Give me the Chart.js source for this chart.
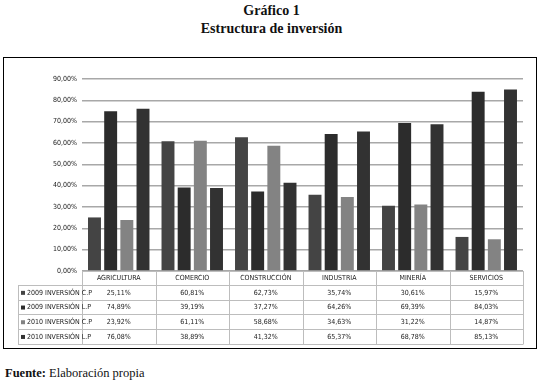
<!DOCTYPE html>
<html lang="es">
  <head>
    <meta charset="utf-8" />
    <title>Estructura de inversión</title>
    <style>
      * { margin: 0; padding: 0; }
      body { width: 543px; height: 384px; background: #fff; position: relative; overflow: hidden; }
      .title {
        position: absolute; left: 0; width: 543px; text-align: center;
        font-family: "Liberation Serif", "DejaVu Serif", serif; font-weight: bold;
        font-size: 14px; color: #111;
      }
      .box {
        position: absolute; left: 3px; top: 57px; width: 532px; height: 290px;
        border: 1.5px solid #000;
      }
      .source {
        position: absolute; left: 5px; top: 366px;
        font-family: "Liberation Serif", "DejaVu Serif", serif; font-size: 12.5px; color: #111;
      }
      canvas { position: absolute; left: 0; top: 0; }
    </style>
  </head>
  <body>
    <div class="title" style="top: 3px">Gráfico 1</div>
    <div class="title" style="top: 21px">Estructura de inversión</div>
    <div class="box"></div>
    <div class="source"><b>Fuente:</b> Elaboración propia</div>
    <canvas id="myChart" width="543" height="384"></canvas>

    <script src="https://cdn.jsdelivr.net/npm/chart.js"></script>
    <script>
      const categories = ["AGRICULTURA", "COMERCIO", "CONSTRUCCIÓN", "INDUSTRIA", "MINERÍA", "SERVICIOS"];
      const seriesNames = ["2009 INVERSIÓN C.P", "2009 INVERSIÓN L.P", "2010 INVERSIÓN C.P", "2010 INVERSIÓN L.P"];
      const cp2009 = [25.11, 60.81, 62.73, 35.74, 30.61, 15.97];
      const lp2009 = [74.89, 39.19, 37.27, 64.26, 69.39, 84.03];
      const cp2010 = [23.92, 61.11, 58.68, 34.63, 31.22, 14.87];
      const lp2010 = [76.08, 38.89, 41.32, 65.37, 68.78, 85.13];
      const colors = ["#444444", "#2c2c2c", "#838383", "#323232"];

      const fmt = (v) => v.toFixed(2).replace(".", ",") + "%";
      const fontFamily = '"Liberation Sans Narrow", "DejaVu Sans Condensed", "Liberation Sans", sans-serif';
      const smallFont = "7px " + fontFamily;

      // draws the data table under the plot
      const dataTable = {
        id: "dataTable",
        afterDraw(chart) {
          const { ctx, chartArea: { left, right, bottom }, scales: { x } } = chart;
          const legendLeft = 18;
          const headH = 14;
          const rowH = 14.7;
          const catW = (right - left) / categories.length;

          ctx.save();
          ctx.strokeStyle = "#bdbdbd";
          ctx.lineWidth = 1;

          // horizontal lines
          ctx.beginPath();
          ctx.moveTo(left, bottom + 0.5);
          ctx.lineTo(right, bottom + 0.5);
          for (let r = 0; r <= seriesNames.length; r++) {
            const yy = Math.round(bottom + headH + r * rowH) + 0.5;
            ctx.moveTo(legendLeft, yy);
            ctx.lineTo(right, yy);
          }
          // vertical lines
          const tableBottom = Math.round(bottom + headH + seriesNames.length * rowH) + 0.5;
          ctx.moveTo(legendLeft + 0.5, bottom + headH);
          ctx.lineTo(legendLeft + 0.5, tableBottom);
          for (let c = 0; c <= categories.length; c++) {
            const xx = Math.round(left + c * catW) + 0.5;
            ctx.moveTo(xx, bottom);
            ctx.lineTo(xx, tableBottom);
          }
          ctx.stroke();

          ctx.font = smallFont;
          ctx.fillStyle = "#1a1a1a";
          ctx.textBaseline = "middle";
          ctx.textAlign = "center";
          categories.forEach((c, i) => {
            ctx.fillText(c, x.getPixelForValue(i), bottom + headH / 2 + 0.5);
          });

          chart.data.datasets.forEach((ds, r) => {
            const yc = bottom + headH + r * rowH + rowH / 2 + 0.5;
            ctx.fillStyle = ds.backgroundColor;
            ctx.fillRect(legendLeft + 3, yc - 2, 4, 4);
            ctx.fillStyle = "#1a1a1a";
            ctx.textAlign = "left";
            ctx.fillText(ds.label, legendLeft + 9, yc);
            ctx.textAlign = "center";
            ds.data.forEach((v, i) => {
              ctx.fillText(fmt(v), x.getPixelForValue(i), yc);
            });
          });
          ctx.restore();
        },
      };

      const config = {
        type: "bar",
        data: {
          labels: categories,
          datasets: [cp2009, lp2009, cp2010, lp2010].map((d, i) => ({
            label: seriesNames[i],
            data: d,
            backgroundColor: colors[i],
            borderWidth: 0,
            categoryPercentage: 0.88,
            barPercentage: 0.8,
          })),
        },
        options: {
          responsive: false,
          animation: false,
          layout: { padding: { top: 79, bottom: 113, left: 32, right: 20 } },
          plugins: { legend: { display: false }, tooltip: { enabled: false } },
          scales: {
            x: {
              afterFit(scale) { scale.height = 0; },
              grid: { display: false },
              border: { display: false },
              ticks: { display: false },
            },
            y: {
              min: 0,
              max: 90,
              afterFit(scale) { scale.width = 50; },
              grid: { color: "#a8a8a8", lineWidth: 1.5, drawTicks: false },
              border: { display: false },
              ticks: {
                stepSize: 10,
                padding: 5,
                color: "#1a1a1a",
                font: { family: fontFamily, size: 7 },
                callback: (v) => fmt(v),
              },
            },
          },
        },
        plugins: [dataTable],
      };

      const myChart = new Chart(document.getElementById("myChart"), config);
    </script>
  </body>
</html>
